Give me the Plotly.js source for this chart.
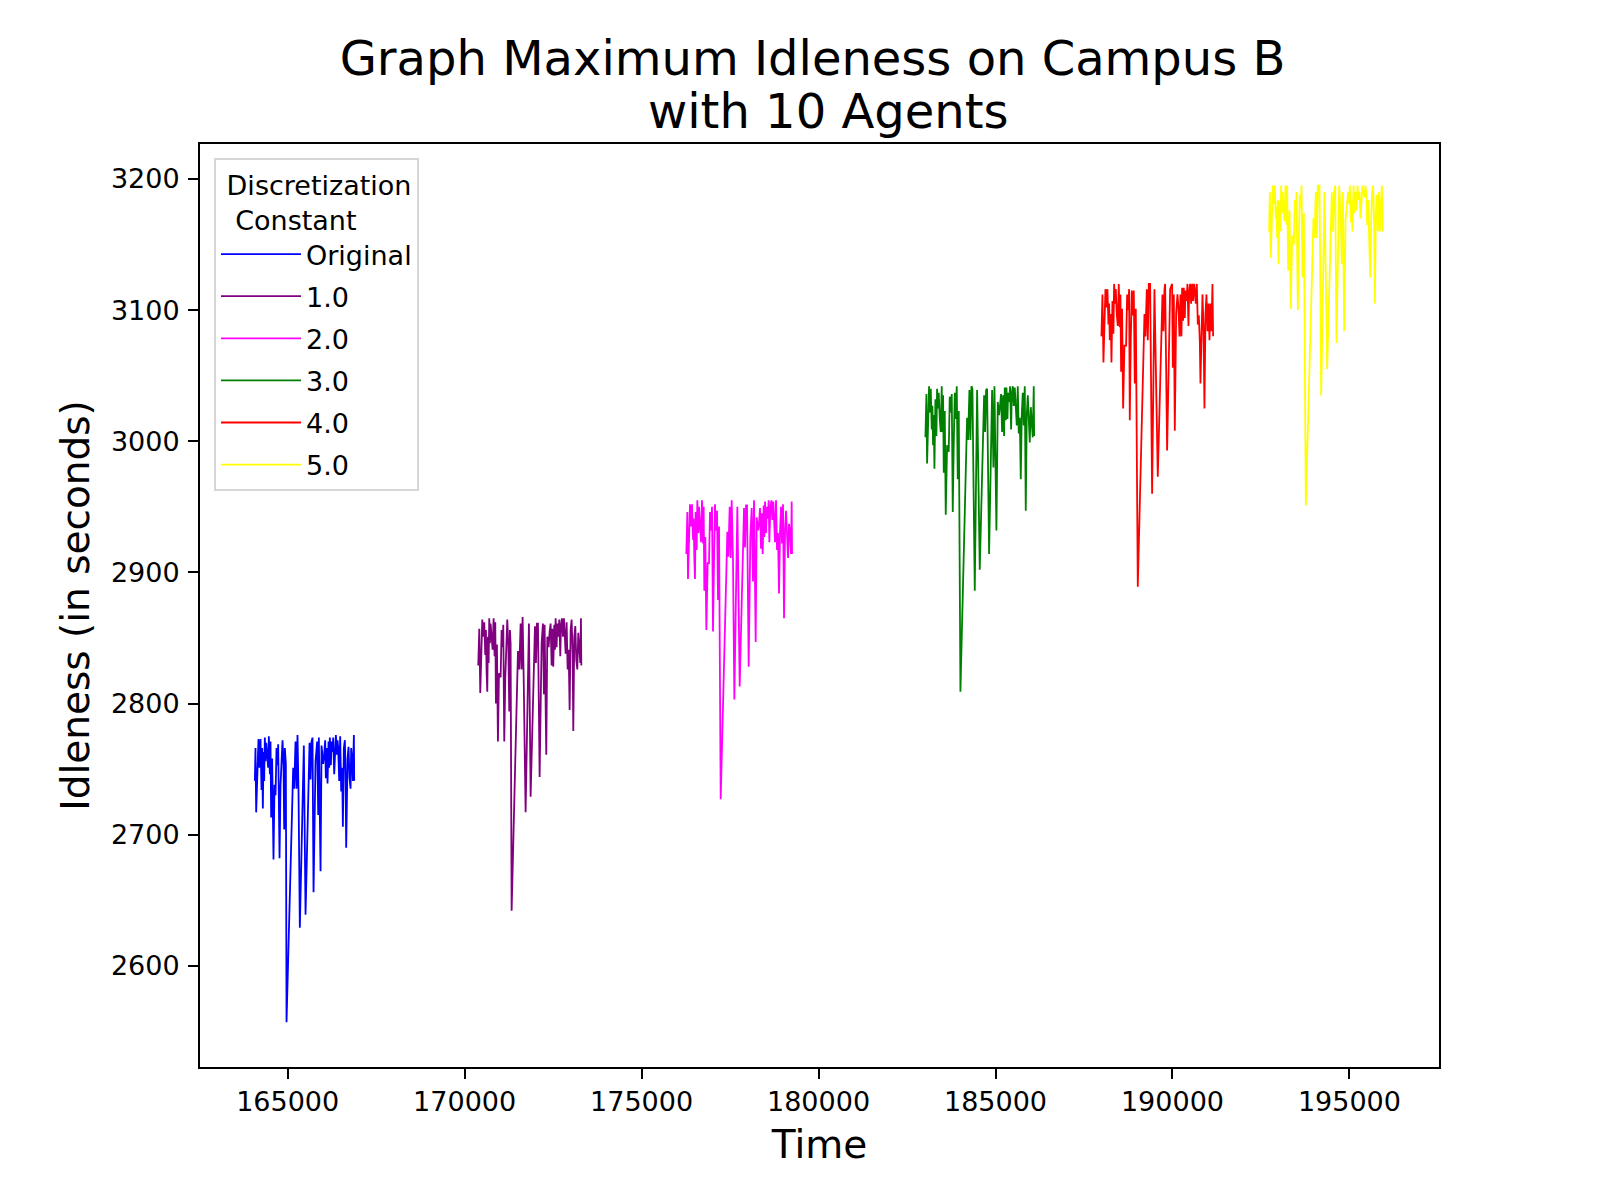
<!DOCTYPE html>
<html>
<head>
<meta charset="utf-8">
<script src="https://cdn.plot.ly/plotly-3.0.1.min.js"></script>
<style>
  body { margin: 0; background: #fff; }
  #chart { width: 1600px; height: 1200px; }
</style>
</head>
<body>
<div id="chart"></div>
<script>
// series labels (legend)
var seriesNames = ["Original", "1.0", "2.0", "3.0", "4.0", "5.0"];

// Original
var timeOriginal = [164073,164091,164110,164148,164176,164204,164233,164261,164280,164299,164318,164336,164355,164374,164393,164421,164449,164468,164497,164515,164534,164562,164600,164628,164657,164685,164713,164732,164770,164798,164826,164855,164883,164902,164920,164949,164968,165156,165184,165222,165250,165278,165307,165344,165457,165505,165618,165646,165674,165702,165731,165787,165834,165863,165881,165929,165957,166004,166032,166060,166079,166107,166126,166155,166173,166192,166221,166239,166268,166286,166315,166334,166362,166390,166409,166428,166456,166484,166513,166541,166560,166588,166616,166635,166654,166692,166720,166748,166777,166795,166824,166842,166871,166880];
var idleOriginal = [2741,2766,2717,2756,2773,2751,2773,2734,2766,2720,2763,2741,2774,2756,2770,2761,2751,2775,2746,2771,2713,2758,2681,2738,2730,2766,2753,2769,2682,2738,2761,2772,2753,2704,2766,2754,2557,2751,2735,2771,2735,2776,2732,2629,2768,2639,2770,2742,2771,2774,2656,2756,2771,2715,2774,2672,2768,2754,2761,2772,2743,2766,2739,2771,2751,2774,2753,2771,2763,2774,2746,2768,2776,2761,2772,2766,2741,2775,2733,2751,2706,2766,2772,2748,2690,2758,2767,2743,2735,2766,2756,2741,2776,2741];

// 1.0
var time1 = [170385,170414,170442,170470,170499,170527,170555,170583,170602,170621,170640,170659,170678,170696,170715,170734,170762,170791,170819,170847,170866,170885,170913,170941,170970,171017,171045,171073,171092,171120,171149,171177,171205,171233,171262,171280,171299,171328,171507,171544,171582,171610,171638,171667,171723,171817,171865,171987,172015,172043,172072,172119,172175,172213,172241,172260,172307,172336,172373,172402,172430,172458,172486,172505,172533,172552,172571,172599,172618,172646,172675,172703,172722,172750,172778,172807,172826,172854,172882,172910,172939,172967,172995,173023,173052,173070,173099,173127,173155,173184,173212,173240,173268,173287,173297];
var idle1 = [2829,2857,2808,2846,2864,2851,2862,2837,2856,2824,2809,2851,2831,2865,2846,2861,2851,2841,2865,2836,2862,2800,2845,2771,2823,2820,2856,2843,2860,2771,2820,2850,2864,2846,2794,2856,2846,2642,2840,2826,2861,2826,2866,2823,2717,2861,2729,2859,2831,2861,2861,2744,2846,2861,2807,2860,2761,2851,2843,2855,2861,2829,2857,2828,2860,2841,2865,2843,2861,2851,2864,2836,2859,2865,2851,2865,2856,2838,2862,2826,2841,2795,2856,2864,2838,2779,2851,2859,2833,2826,2854,2843,2831,2865,2829];

// 2.0
var time2 = [176264,176293,176311,176340,176368,176396,176424,176453,176472,176490,176509,176528,176556,176575,176603,176622,176651,176679,176707,176735,176754,176773,176801,176830,176867,176905,176933,176961,176990,177018,177046,177074,177103,177131,177159,177188,177235,177423,177451,177489,177517,177546,177583,177621,177706,177772,177894,177922,177951,177979,178026,178073,178111,178148,178177,178224,178252,178290,178318,178346,178375,178403,178422,178450,178469,178488,178516,178535,178563,178591,178610,178638,178667,178695,178723,178742,178770,178799,178827,178855,178883,178912,178940,178968,178996,179025,179053,179081,179109,179138,179166,179194,179223,179241,179251];
var idle2 = [2914,2946,2895,2932,2952,2935,2952,2925,2941,2911,2895,2946,2917,2955,2930,2950,2935,2923,2955,2922,2950,2886,2927,2856,2907,2907,2946,2932,2950,2855,2908,2952,2932,2947,2879,2935,2727,2931,2912,2950,2911,2955,2909,2803,2950,2813,2949,2919,2951,2951,2828,2927,2949,2893,2955,2847,2942,2932,2937,2949,2918,2945,2914,2951,2927,2954,2930,2950,2941,2955,2923,2949,2955,2940,2954,2942,2923,2955,2917,2930,2884,2931,2950,2922,2952,2865,2932,2947,2919,2911,2937,2930,2914,2954,2914];

// 3.0
var time3 = [183020,183048,183067,183095,183123,183151,183170,183199,183217,183236,183255,183274,183302,183330,183349,183378,183396,183425,183453,183481,183500,183519,183538,183566,183594,183632,183679,183707,183736,183764,183792,183820,183849,183877,183905,183933,183962,184009,184197,184225,184263,184291,184320,184348,184414,184480,184555,184678,184706,184734,184762,184819,184875,184904,184941,184970,185026,185064,185102,185130,185158,185186,185215,185243,185262,185290,185309,185337,185356,185384,185412,185441,185460,185488,185516,185544,185573,185601,185629,185657,185686,185714,185742,185770,185799,185827,185855,185883,185912,185940,185968,185997,186025,186053,186081,186091];
var idle3 = [3003,3036,2983,3020,3042,3022,3040,3009,3027,2997,3020,2979,3032,3004,3040,3025,3037,3017,3007,3042,3007,3035,2976,3023,2944,2997,2992,3034,3022,3036,2946,2998,3037,3017,3042,2971,3023,2809,3018,3001,3039,3001,3042,3040,2886,3039,2902,3035,3007,3039,3040,2914,3015,3039,2980,3042,2932,3030,3020,3027,3036,3007,3035,3004,3041,3016,3041,3017,3037,3030,3042,3009,3036,3042,3027,3041,3030,3012,3042,3006,3018,2971,3020,3037,3012,3042,2947,3020,3035,3007,2999,3026,3017,3003,3042,3004];

// 4.0
var time4 = [187993,188022,188050,188078,188106,188135,188163,188191,188210,188229,188257,188276,188304,188332,188351,188380,188398,188427,188455,188483,188511,188530,188549,188577,188606,188643,188690,188719,188747,188775,188794,188822,188851,188879,188907,188935,188964,189020,189209,189237,189275,189303,189331,189369,189425,189491,189585,189717,189746,189774,189793,189849,189906,189934,189991,190009,190038,190066,190104,190141,190169,190198,190226,190254,190273,190301,190320,190349,190367,190396,190424,190452,190471,190499,190527,190556,190584,190612,190641,190659,190688,190716,190744,190772,190791,190820,190848,190876,190904,190933,190961,190989,191017,191046,191074,191102,191130,191149];
var idle4 = [3080,3112,3060,3097,3116,3102,3116,3089,3105,3077,3097,3060,3107,3082,3120,3105,3116,3097,3088,3120,3087,3112,3053,3101,3025,3073,3073,3112,3100,3116,3016,3077,3115,3096,3115,3044,3101,2889,3097,3080,3116,3077,3120,3120,2960,3116,2973,3112,3084,3116,3120,2993,3092,3116,3120,3056,3112,3008,3097,3112,3102,3080,3112,3080,3117,3092,3117,3094,3115,3107,3120,3088,3113,3120,3105,3120,3107,3120,3112,3105,3120,3089,3096,3077,3044,3097,3112,3088,3025,3097,3112,3084,3105,3077,3105,3084,3120,3080];

// 5.0
var time5 = [192732,192751,192779,192807,192836,192864,192892,192921,192939,192958,192977,192996,193024,193052,193071,193090,193109,193137,193165,193194,193222,193241,193269,193307,193344,193382,193429,193458,193486,193505,193542,193571,193599,193627,193646,193674,193712,193768,193985,194013,194051,194079,194108,194155,194202,194296,194371,194503,194532,194569,194597,194635,194710,194758,194786,194814,194852,194890,194927,194965,194993,195012,195040,195059,195087,195116,195144,195172,195200,195229,195257,195285,195313,195342,195370,195398,195427,195455,195483,195502,195530,195558,195587,195615,195643,195671,195700,195719,195747,195775,195803,195832,195860,195888,195917,195945];
var idle5 = [3160,3190,3140,3174,3195,3181,3195,3170,3179,3155,3184,3135,3183,3160,3195,3174,3190,3177,3168,3195,3165,3195,3130,3176,3101,3157,3150,3184,3172,3190,3100,3154,3188,3179,3195,3125,3174,2951,3170,3155,3190,3155,3195,3195,3035,3190,3055,3190,3160,3190,3195,3075,3195,3167,3135,3190,3084,3169,3182,3190,3181,3195,3167,3184,3160,3195,3174,3190,3176,3195,3184,3190,3170,3190,3195,3190,3186,3195,3186,3165,3184,3155,3125,3169,3191,3195,3164,3105,3174,3188,3160,3190,3160,3181,3195,3160];

var lineColors = ["blue", "purple", "magenta", "green", "red", "yellow"];

var times = [timeOriginal, time1, time2, time3, time4, time5];
var idles = [idleOriginal, idle1, idle2, idle3, idle4, idle5];

var data = seriesNames.map(function (name, i) {
    return {
        x: times[i],
        y: idles[i],
        type: "scatter",
        mode: "lines",
        name: name,
        legendgroup: "g" + i,
        line: {color: lineColors[i], width: 1.8}
    };
});

var fontFamily = "DejaVu Sans, sans-serif";

var layout = {
    width: 1600,
    height: 1200,
    paper_bgcolor: "white",
    plot_bgcolor: "white",
    font: {family: fontFamily, size: 27, color: "black"},
    margin: {l: 200, r: 161, t: 144, b: 133},
    // two-line title; second line as annotation to get matplotlib's tighter line spacing
    title: {
        text: "Graph Maximum Idleness on Campus B",
        font: {family: fontFamily, size: 48, color: "black"},
        x: 0.4944, xref: "paper", xanchor: "center",
        y: 0.9655, yref: "container", yanchor: "top"
    },
    annotations: [{
        text: "with 10 Agents",
        font: {family: fontFamily, size: 48, color: "black"},
        xref: "paper", yref: "paper", x: 0.5069, y: 1.0356,
        xanchor: "center", yanchor: "middle", showarrow: false
    }],
    xaxis: {
        title: {text: "Time", font: {size: 39}, standoff: 14},
        range: [162523, 197531],
        tickvals: [165000, 170000, 175000, 180000, 185000, 190000, 195000],
        ticktext: ["165000", "170000", "175000", "180000", "185000", "190000", "195000"],
        ticks: "outside", ticklen: 10, tickwidth: 2, tickcolor: "black",
        showline: true, linecolor: "black", linewidth: 2, mirror: true,
        showgrid: false, zeroline: false, automargin: false
    },
    yaxis: {
        title: {text: "Idleness (in seconds)", font: {size: 39}, standoff: 9},
        range: [2522.8, 3226.7],
        tickvals: [2600, 2700, 2800, 2900, 3000, 3100, 3200],
        ticks: "outside", ticklen: 10, tickwidth: 2, tickcolor: "black",
        ticklabelstandoff: 3,
        showline: true, linecolor: "black", linewidth: 2, mirror: true,
        showgrid: false, zeroline: false, automargin: false
    },
    legend: {
        x: 0.0113, y: 0.985, xanchor: "left", yanchor: "top",
        bgcolor: "white", bordercolor: "#d6d6d6", borderwidth: 2,
        font: {size: 27},
        itemwidth: 80,
        tracegroupgap: 4,
        title: {text: "&nbsp;Discretization<br>&nbsp;&nbsp;Constant", font: {size: 27}}
    },
    showlegend: true
};

Plotly.newPlot("chart", data, layout, {staticPlot: true});
</script>
</body>
</html>
